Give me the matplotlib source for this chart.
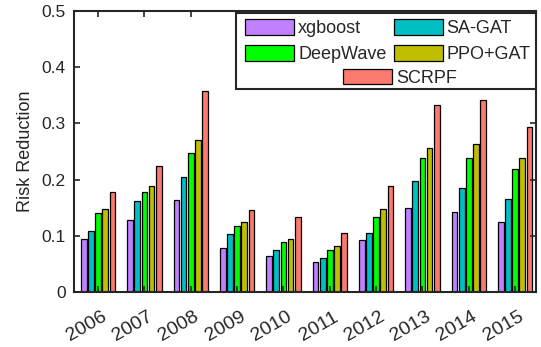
import numpy as np
import matplotlib
matplotlib.use("Agg")
import matplotlib.pyplot as plt
import matplotlib.transforms as mtransforms
from matplotlib.patches import Patch, Rectangle

plt.rcParams['font.family'] = ['Liberation Sans', 'DejaVu Sans']

years = ['2006', '2007', '2008', '2009', '2010', '2011', '2012', '2013', '2014', '2015']
xgboost = [0.095, 0.128, 0.163, 0.079, 0.064, 0.054, 0.093, 0.150, 0.143, 0.124]
sa_gat = [0.108, 0.162, 0.205, 0.103, 0.074, 0.061, 0.105, 0.198, 0.185, 0.165]
deepwave = [0.140, 0.178, 0.248, 0.118, 0.089, 0.075, 0.133, 0.239, 0.239, 0.219]
ppo_gat = [0.147, 0.188, 0.270, 0.124, 0.094, 0.081, 0.147, 0.256, 0.263, 0.239]
scrpf = [0.178, 0.225, 0.357, 0.146, 0.134, 0.105, 0.189, 0.332, 0.342, 0.293]

names = ['xgboost', 'SA-GAT', 'DeepWave', 'PPO+GAT', 'SCRPF']
series = [xgboost, sa_gat, deepwave, ppo_gat, scrpf]
colors = ['#C080FF', '#00BFC4', '#00FF00', '#BFBF00', '#FA7A6E']

dark = '#262626'
fig = plt.figure(figsize=(5.41, 3.47), dpi=100)
ax = fig.add_axes([74 / 541, 1 - 292 / 347, 462 / 541, 281 / 347])

x = np.arange(1, len(years) + 1)
pitch = 0.154
width = 0.123
for i, (vals, c) in enumerate(zip(series, colors)):
    ax.bar(x + (i - 2) * pitch, vals, width, color=c, edgecolor='black', linewidth=0.9)

ax.set_xlim(0.48, 10.45)
ax.set_ylim(0, 0.5)
ax.set_yticks([0, 0.1, 0.2, 0.3, 0.4, 0.5])
ax.set_yticklabels(['0', '0.1', '0.2', '0.3', '0.4', '0.5'], fontsize=12.5)
ax.set_xticks(x)
ax.set_xticklabels(years, rotation=30, ha='right', va='center', rotation_mode='anchor', fontsize=14)
ax.tick_params(direction='in', length=4, width=1.2, colors=dark, top=True, right=True)
ax.tick_params(axis='x', pad=17)
ax.tick_params(axis='y', pad=6)
# nudge the rotated year labels to the right (after tick_params, which resets transforms)
shift = mtransforms.ScaledTranslation(7 / 100, 0, fig.dpi_scale_trans)
for lab in ax.get_xticklabels():
    lab.set_transform(lab.get_transform() + shift)
for s in ax.spines.values():
    s.set_linewidth(1.5)
    s.set_color(dark)
ax.set_ylabel('Risk Reduction', fontsize=13, color=dark, labelpad=5)

# legend: box with 2x2 rows plus centered last entry
frame = Rectangle((236 / 541, 1 - 89 / 347), 300 / 541, 76 / 347, transform=fig.transFigure,
                  facecolor='white', edgecolor=dark, linewidth=1.5, zorder=5)
fig.add_artist(frame)
h = [Patch(facecolor=colors[k], edgecolor='black', linewidth=0.9) for k in range(5)]
kw = dict(frameon=False, fontsize=13, handlelength=2.72, handleheight=0.98,
          handletextpad=0.22, borderpad=0, borderaxespad=0, labelcolor=dark)
leg1 = fig.legend([h[0], h[2], h[1], h[3]], [names[0], names[2], names[1], names[3]],
                  ncol=2, loc='upper left', bbox_to_anchor=(245 / 541, 1 - 19 / 347),
                  columnspacing=0.39, labelspacing=0.45, **kw)
leg1.set_zorder(6)
leg2 = fig.legend([h[4]], [names[4]], loc='upper left', bbox_to_anchor=(343 / 541, 1 - 68.5 / 347), **kw)
leg2.set_zorder(6)

fig.savefig('out.png', dpi=100)
